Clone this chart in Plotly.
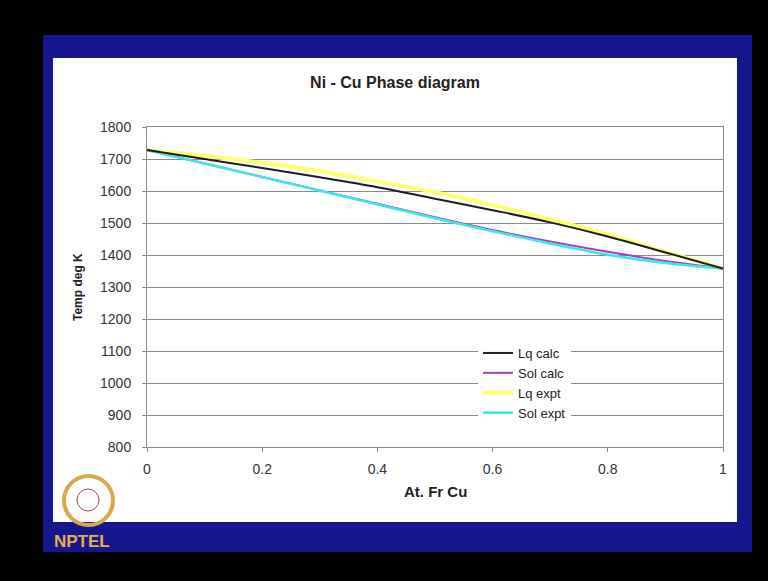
import plotly.graph_objects as go

# ---- data ----
x_cu = [0.0, 0.1, 0.2, 0.3, 0.4, 0.5, 0.6, 0.7, 0.8, 0.9, 1.0]
lq_calc = [1728, 1700, 1672, 1643, 1612, 1576, 1540, 1502, 1458, 1408, 1358]
sol_calc = [1728, 1686, 1644, 1602, 1560, 1518, 1478, 1442, 1410, 1381, 1358]
lq_expt = [1728, 1710, 1688, 1662, 1630, 1596, 1556, 1512, 1464, 1410, 1358]
sol_expt = [1728, 1686, 1644, 1601, 1558, 1515, 1474, 1436, 1401, 1375, 1358]
x_ticks = [0, 0.2, 0.4, 0.6, 0.8, 1]
x_tick_text = ["0", "0.2", "0.4", "0.6", "0.8", "1"]
y_ticks = [800, 900, 1000, 1100, 1200, 1300, 1400, 1500, 1600, 1700, 1800]

W, H = 768, 581
L, R, T, B = 147, 723, 127, 447


def px(x):
    return (x - L) / (R - L)


def py(y):
    return (B - y) / (B - T)


FONT = "Liberation Sans, Arial, sans-serif"

fig = go.Figure()
# draw order: expt lines under calc lines; legend order via legendrank
fig.add_trace(go.Scatter(x=x_cu, y=lq_expt, mode="lines", name="Lq expt",
                         line=dict(color="#ffff70", width=4, shape="spline"), legendrank=3))
fig.add_trace(go.Scatter(x=x_cu, y=sol_calc, mode="lines", name="Sol calc",
                         line=dict(color="#a040c8", width=2, shape="spline"), legendrank=2))
fig.add_trace(go.Scatter(x=x_cu, y=sol_expt, mode="lines", name="Sol expt",
                         line=dict(color="#3ee6e6", width=2.5, shape="spline"), legendrank=4))
fig.add_trace(go.Scatter(x=x_cu, y=lq_calc, mode="lines", name="Lq calc",
                         line=dict(color="#1c1c2c", width=2, shape="spline"), legendrank=1))

shapes = [
    # blue slide frame
    dict(type="rect", xref="paper", yref="paper", layer="below",
         x0=px(43), x1=px(752), y0=py(552), y1=py(35),
         fillcolor="#16168e", line=dict(width=0)),
    # white slide panel
    dict(type="rect", xref="paper", yref="paper", layer="below",
         x0=px(53), x1=px(737), y0=py(522), y1=py(58),
         fillcolor="white", line=dict(width=0)),
    # NPTEL logo ring
    dict(type="circle", xref="paper", yref="paper", layer="above",
         x0=px(64), x1=px(113), y0=py(525), y1=py(476),
         fillcolor="rgba(0,0,0,0)", line=dict(color="#d9a84e", width=4)),
    dict(type="circle", xref="paper", yref="paper", layer="above",
         x0=px(77), x1=px(99), y0=py(511), y1=py(489),
         fillcolor="rgba(0,0,0,0)", line=dict(color="#b04050", width=1)),
]

annotations = [
    dict(text="<b>Temp deg K</b>", xref="paper", yref="paper", x=px(78), y=py(287),
         xanchor="center", yanchor="middle",
         textangle=-90, showarrow=False, font=dict(family=FONT, size=12, color="#222")),
    dict(text="<b>At. Fr Cu</b>", xref="paper", yref="paper", x=px(435), y=py(491),
         xanchor="center", yanchor="middle",
         showarrow=False, font=dict(family=FONT, size=15, color="#222")),
    dict(text="<b>NPTEL</b>", xref="paper", yref="paper", x=px(82), y=py(541),
         xanchor="center", yanchor="middle",
         showarrow=False, font=dict(family=FONT, size=17, color="#e8b04a")),
]

fig.update_layout(
    width=W, height=H,
    margin=dict(l=L, r=W - R, t=T, b=H - B),
    paper_bgcolor="black",
    plot_bgcolor="white",
    title=dict(text="<b>Ni - Cu Phase diagram</b>", xref="paper", x=px(395), xanchor="center",
               yref="container", y=1 - 82 / H, yanchor="middle",
               font=dict(family=FONT, size=16, color="#222")),
    font=dict(family=FONT, size=14, color="#333"),
    showlegend=True,
    legend=dict(x=px(478), y=py(338), xanchor="left", yanchor="top",
                bgcolor="white", borderwidth=0,
                font=dict(family=FONT, size=13, color="#222"),
                tracegroupgap=0),
    shapes=shapes,
    annotations=annotations,
)
fig.update_xaxes(range=[0, 1], tickvals=x_ticks, ticktext=x_tick_text,
                 showgrid=False, zeroline=False, showline=True, mirror=True,
                 linecolor="#8a8a8a", linewidth=1, ticks="outside", ticklen=4,
                 tickcolor="#8a8a8a", ticklabelstandoff=5,
                 tickfont=dict(size=14, color="#333"))
fig.update_yaxes(range=[800, 1800], tickvals=y_ticks,
                 showgrid=True, gridcolor="#8a8a8a", gridwidth=1, zeroline=False,
                 showline=True, mirror=True, linecolor="#8a8a8a", linewidth=1,
                 ticks="outside", ticklen=4, tickcolor="#8a8a8a",
                 ticklabelstandoff=8,
                 tickfont=dict(size=14, color="#333"))

fig.write_html("out.html", config={"displayModeBar": False},
               post_script="document.body.style.margin='0px';")
